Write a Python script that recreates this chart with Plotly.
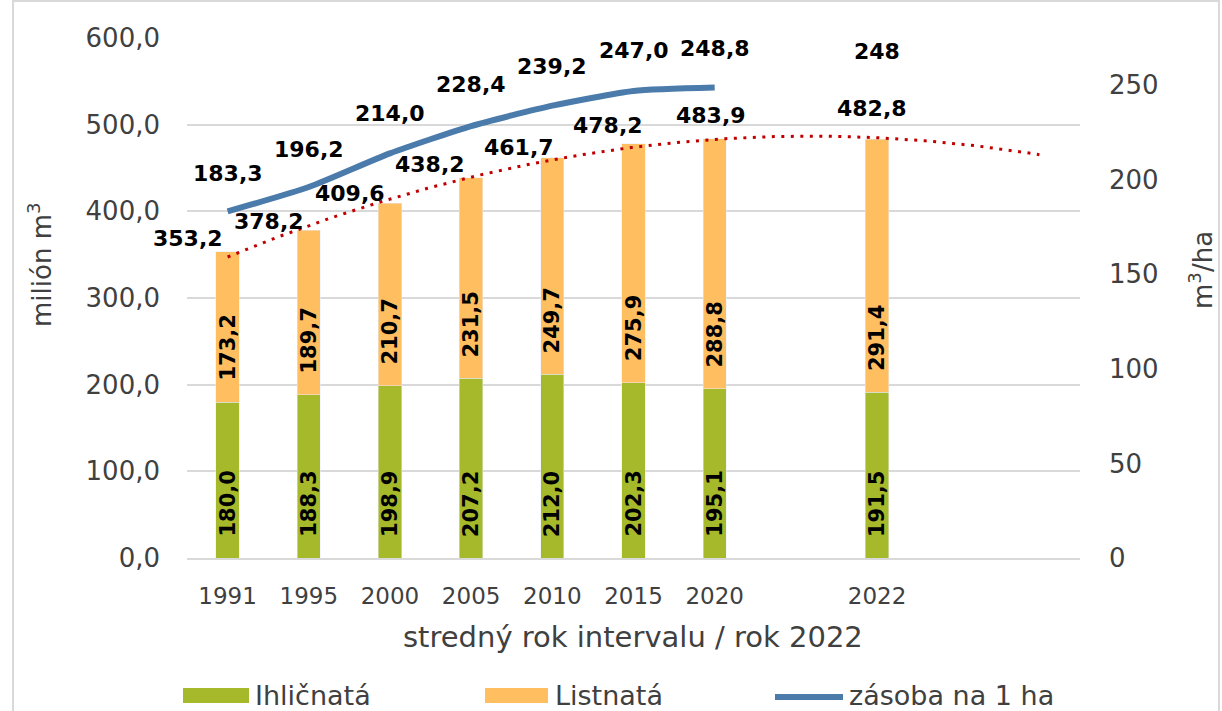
import numpy as np
import plotly.graph_objects as go

# ---------------- data ----------------
categories = ["1991", "1995", "2000", "2005", "2010", "2015", "2020", "", "2022", "", ""]
years = ["1991", "1995", "2000", "2005", "2010", "2015", "2020", "2022"]
ihlicnata = [180.0, 188.3, 198.9, 207.2, 212.0, 202.3, 195.1, 191.5]
listnata = [173.2, 189.7, 210.7, 231.5, 249.7, 275.9, 288.8, 291.4]
spolu = [353.2, 378.2, 409.6, 438.2, 461.7, 478.2, 483.9, 482.8]
zasoba = [183.3, 196.2, 214.0, 228.4, 239.2, 247.0, 248.8, 248]

# ---------------- styles / label offsets ----------------
FONT = "DejaVu Sans"
GREEN = "#A6B92B"
ORANGE = "#FFBE60"
BLUE = "#4A7BAB"
RED = "#C00000"
GRID = "#D9D9D9"
TXT = "#404040"

total_dx = [-40, -40, -40, -41, -33, -26, -4, -5]
total_dy = [13, 9, 10, 14, 10, 18, 23, 31]
zas_dy = [38, 38, 40, 42, 39, 40, 39, 38]

# plot area in pixels
W, H = 1222, 711
L, R, T, B = 187, 1080, 38, 558


def px(xp):
    return (xp - L) / (R - L)


def py(yp):
    return (B - yp) / (B - T)


def fmt(v):
    if isinstance(v, int):
        return str(v)
    return f"{v:.1f}".replace(".", ",")


pos = [categories.index(y) for y in years]

fig = go.Figure()

fig.add_trace(go.Bar(x=pos, y=ihlicnata, name="Ihličnatá", marker_color=GREEN,
                     width=0.287, showlegend=False, hoverinfo="skip"))
fig.add_trace(go.Bar(x=pos, y=listnata, name="Listnatá", marker_color=ORANGE,
                     width=0.287, showlegend=False, hoverinfo="skip"))

# polynomial (2nd order) trendline of the totals, forecast forward 2 periods
coef = np.polyfit(pos, spolu, 2)
xs = np.linspace(pos[0], pos[-1] + 2, 200)
ys = np.polyval(coef, xs)
fig.add_trace(go.Scatter(x=xs, y=ys, mode="lines", showlegend=False,
                         line=dict(color=RED, width=3, dash="3px,6.5px"), hoverinfo="skip"))

# stock per ha line (gap between 2020 and 2022)
lx = pos[:7] + [None] + pos[7:]
ly = zasoba[:7] + [None] + zasoba[7:]
fig.add_trace(go.Scatter(x=lx, y=ly, yaxis="y2", mode="lines", showlegend=False,
                         line=dict(color=BLUE, width=6, shape="spline", smoothing=0.6),
                         connectgaps=False, hoverinfo="skip"))

ann = []
lab_font = dict(family=FONT, size=21, color="black", weight="bold")
for i, x in enumerate(pos):
    ann.append(dict(x=x, y=0, xref="x", yref="y", text=fmt(ihlicnata[i]), textangle=-90,
                    showarrow=False, yanchor="bottom", xanchor="center", yshift=19, font=lab_font))
    ann.append(dict(x=x, y=ihlicnata[i], xref="x", yref="y", text=fmt(listnata[i]), textangle=-90,
                    showarrow=False, yanchor="bottom", xanchor="center", yshift=19, font=lab_font))
    ann.append(dict(x=x, y=spolu[i], xref="x", yref="y", text=fmt(spolu[i]),
                    showarrow=False, yanchor="middle", xanchor="center",
                    xshift=total_dx[i], yshift=total_dy[i],
                    font=dict(family=FONT, size=22, color="black", weight="bold")))
    ann.append(dict(x=x, y=zasoba[i], xref="x", yref="y2", text=fmt(zasoba[i]),
                    showarrow=False, yanchor="middle", xanchor="center", yshift=zas_dy[i],
                    font=dict(family=FONT, size=22, color="black", weight="bold")))

# axis titles
ann.append(dict(x=px(40), y=py(265), xref="paper", yref="paper", text="milión m<sup>3</sup>",
                textangle=-90, showarrow=False, xanchor="center", yanchor="middle",
                font=dict(family=FONT, size=26, color=TXT)))
ann.append(dict(x=px(1201), y=py(270), xref="paper", yref="paper", text="m<sup>3</sup>/ha",
                textangle=-90, showarrow=False, xanchor="center", yanchor="middle",
                font=dict(family=FONT, size=26, color=TXT)))
ann.append(dict(x=px(633), y=py(637), xref="paper", yref="paper",
                text="stredný rok intervalu / rok 2022", showarrow=False,
                xanchor="center", yanchor="middle", font=dict(family=FONT, size=29, color=TXT)))

# custom legend
leg_font = dict(family=FONT, size=27, color=TXT)
shapes = [
    dict(type="rect", xref="paper", yref="paper", x0=px(13), x1=px(1219), y0=py(1), y1=py(730),
         line=dict(color=GRID, width=2), fillcolor="rgba(0,0,0,0)", layer="below"),
    dict(type="rect", xref="paper", yref="paper", x0=px(183), x1=px(249), y0=py(703), y1=py(688),
         line=dict(width=0), fillcolor=GREEN),
    dict(type="rect", xref="paper", yref="paper", x0=px(485), x1=px(548), y0=py(703), y1=py(688),
         line=dict(width=0), fillcolor=ORANGE),
    dict(type="line", xref="paper", yref="paper", x0=px(775), x1=px(843), y0=py(697), y1=py(697),
         line=dict(width=6, color=BLUE)),
]
for txt, xp in [("Ihličnatá", 253), ("Listnatá", 553), ("zásoba na 1 ha", 847)]:
    ann.append(dict(x=px(xp), y=py(695), xref="paper", yref="paper", text=txt, showarrow=False,
                    xanchor="left", yanchor="middle", font=leg_font))

fig.update_layout(
    width=W, height=H,
    margin=dict(l=L, r=W - R, t=T, b=H - B, pad=0),
    paper_bgcolor="white", plot_bgcolor="white",
    barmode="stack", separators=", ",
    showlegend=False,
    font=dict(family=FONT, color=TXT),
    xaxis=dict(range=[-0.5, len(categories) - 0.5], tickmode="array", tickvals=pos, ticktext=years,
               showgrid=False, zeroline=False, showline=True, linecolor=GRID, linewidth=2,
               ticks="", ticklabelstandoff=16, tickfont=dict(family=FONT, size=23, color=TXT)),
    yaxis=dict(range=[0, 600], dtick=100, tickformat=".1f", showgrid=True, gridcolor=GRID,
               gridwidth=2, zeroline=False, showline=False, ticks="", ticklabelstandoff=26,
               tickfont=dict(family=FONT, size=26, color=TXT)),
    yaxis2=dict(range=[0, 275], tick0=0, dtick=50, overlaying="y", side="right", showgrid=False,
                zeroline=False, showline=False, ticks="", ticklabelstandoff=28,
                tickfont=dict(family=FONT, size=26, color=TXT)),
    annotations=ann, shapes=shapes,
)

fig.write_html("out.html", config={"displayModeBar": False, "staticPlot": True},
               post_script="document.body.style.margin='0';document.body.style.overflow='hidden';")
